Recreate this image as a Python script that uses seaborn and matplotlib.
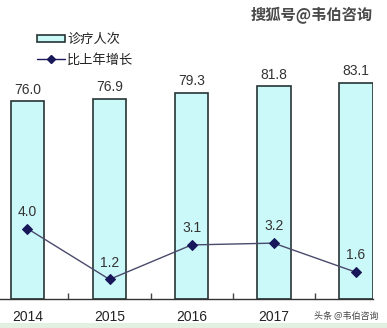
import matplotlib
matplotlib.use("Agg")
import matplotlib.pyplot as plt
from matplotlib.patches import Patch, Rectangle
from matplotlib.lines import Line2D
import seaborn as sns
import pandas as pd

years = ["2014", "2015", "2016", "2017", "2018"]
tick_labels = ["2014", "2015", "2016", "2017", ""]
visits = [76.0, 76.9, 79.3, 81.8, 83.1]      # 诊疗人次 (亿)
growth = [4.0, 1.2, 3.1, 3.2, 1.6]           # 比上年增长 (%)

sns.set_theme(style="white")
plt.rcParams["font.family"] = ["Liberation Sans", "Noto Sans CJK SC", "DejaVu Sans"]

W, H = 387, 328
fig = plt.figure(figsize=(W / 100, H / 100), dpi=100)
fig.patch.set_facecolor("white")

# axes box in pixels: left, right, top, baseline
left_px, right_px, top_px, base_px = -13.6, 373.0, 0.0, 299.0
ax = fig.add_axes([left_px / W, (H - base_px) / H,
                   (right_px - left_px) / W, (base_px - top_px) / H])
ax.set_facecolor("none")

df = pd.DataFrame({"year": years, "visits": visits, "growth": growth})

bar_fill = "#cbf8f8"
bar_edge = "#263535"
sns.barplot(data=df, x="year", y="visits", ax=ax, color=bar_fill,
            width=0.41, edgecolor=bar_edge, linewidth=1.2, saturation=1)
ax.set_xlim(-0.5, 4.21)
ax.set_ylim(0, 115)

for i, v in enumerate(visits):
    ax.annotate(f"{v:.1f}", (i, v), xytext=(0, 8.5), textcoords="offset points",
                ha="center", va="center", fontsize=10, color="#333333")

ax2 = ax.twinx()
ax2.set_facecolor("none")
sns.pointplot(data=df, x="year", y="growth", ax=ax2, color="#4a4a6c",
              markers="D", linewidth=1.0, markersize=5)
for coll in ax2.collections:
    coll.set_facecolor("#17175a")
    coll.set_edgecolor("#17175a")
for ln in ax2.lines:
    ln.set_markerfacecolor("#17175a")
    ln.set_markeredgecolor("#17175a")
ax2.set_xlim(-0.5, 4.21)
ax2.set_ylim(0.12, 16.6)

for i, g in enumerate(growth):
    ax2.annotate(f"{g:.1f}", (i, g), xytext=(0, 12), textcoords="offset points",
                 ha="center", va="center", fontsize=10, color="#333333")

for a in (ax, ax2):
    for s in ("left", "right", "top"):
        a.spines[s].set_visible(False)
    a.set_yticks([])
    a.set_ylabel("")
    a.set_xlabel("")
ax.spines["bottom"].set_visible(True)
ax.spines["bottom"].set_color("#333333")
ax.spines["bottom"].set_linewidth(1.0)
ax2.spines["bottom"].set_visible(False)

ax.set_xticks(range(5))
ax.set_xticklabels(tick_labels, fontsize=10, color="#222222")
ax.tick_params(axis="x", which="major", length=0, pad=8)
ax.set_xticks([0.5, 1.5, 2.5, 3.5], minor=True)
ax.tick_params(axis="x", which="minor", direction="in", length=4,
               width=1.0, color="#444444", bottom=True)

handles = [
    Patch(facecolor=bar_fill, edgecolor=bar_edge, linewidth=1.2, label="诊疗人次"),
    Line2D([0], [0], color="#1a1a5e", lw=1.0, marker="D", markersize=4.5,
           markerfacecolor="#17175a", markeredgecolor="#17175a", label="比上年增长"),
]
leg = fig.legend(handles=handles, loc="upper left",
                 bbox_to_anchor=(28 / W, 1 - 24 / H), frameon=False,
                 prop={"family": ["Noto Sans CJK SC"], "size": 9.5},
                 handlelength=2.1, handleheight=0.45, handletextpad=0.15,
                 labelspacing=0.55, borderpad=0.2)
for t in leg.get_texts():
    t.set_color("#222222")

fig.text(373 / W, 1 - 15 / H, "搜狐号@韦伯咨询", ha="right", va="center",
         fontsize=11, fontweight="bold", color="#4a4a4a",
         family=["Noto Sans CJK SC", "DejaVu Sans"])
fig.text(378 / W, 1 - 316 / H, "头条 @韦伯咨询", ha="right", va="center",
         fontsize=6.5, color="#444444",
         family=["Noto Sans CJK SC", "DejaVu Sans"])

fig.patches.append(Rectangle((0, 0), 1, 5 / H, transform=fig.transFigure,
                             facecolor="#e2f0e2", edgecolor="none", zorder=0))

fig.savefig("out.png", dpi=100)
